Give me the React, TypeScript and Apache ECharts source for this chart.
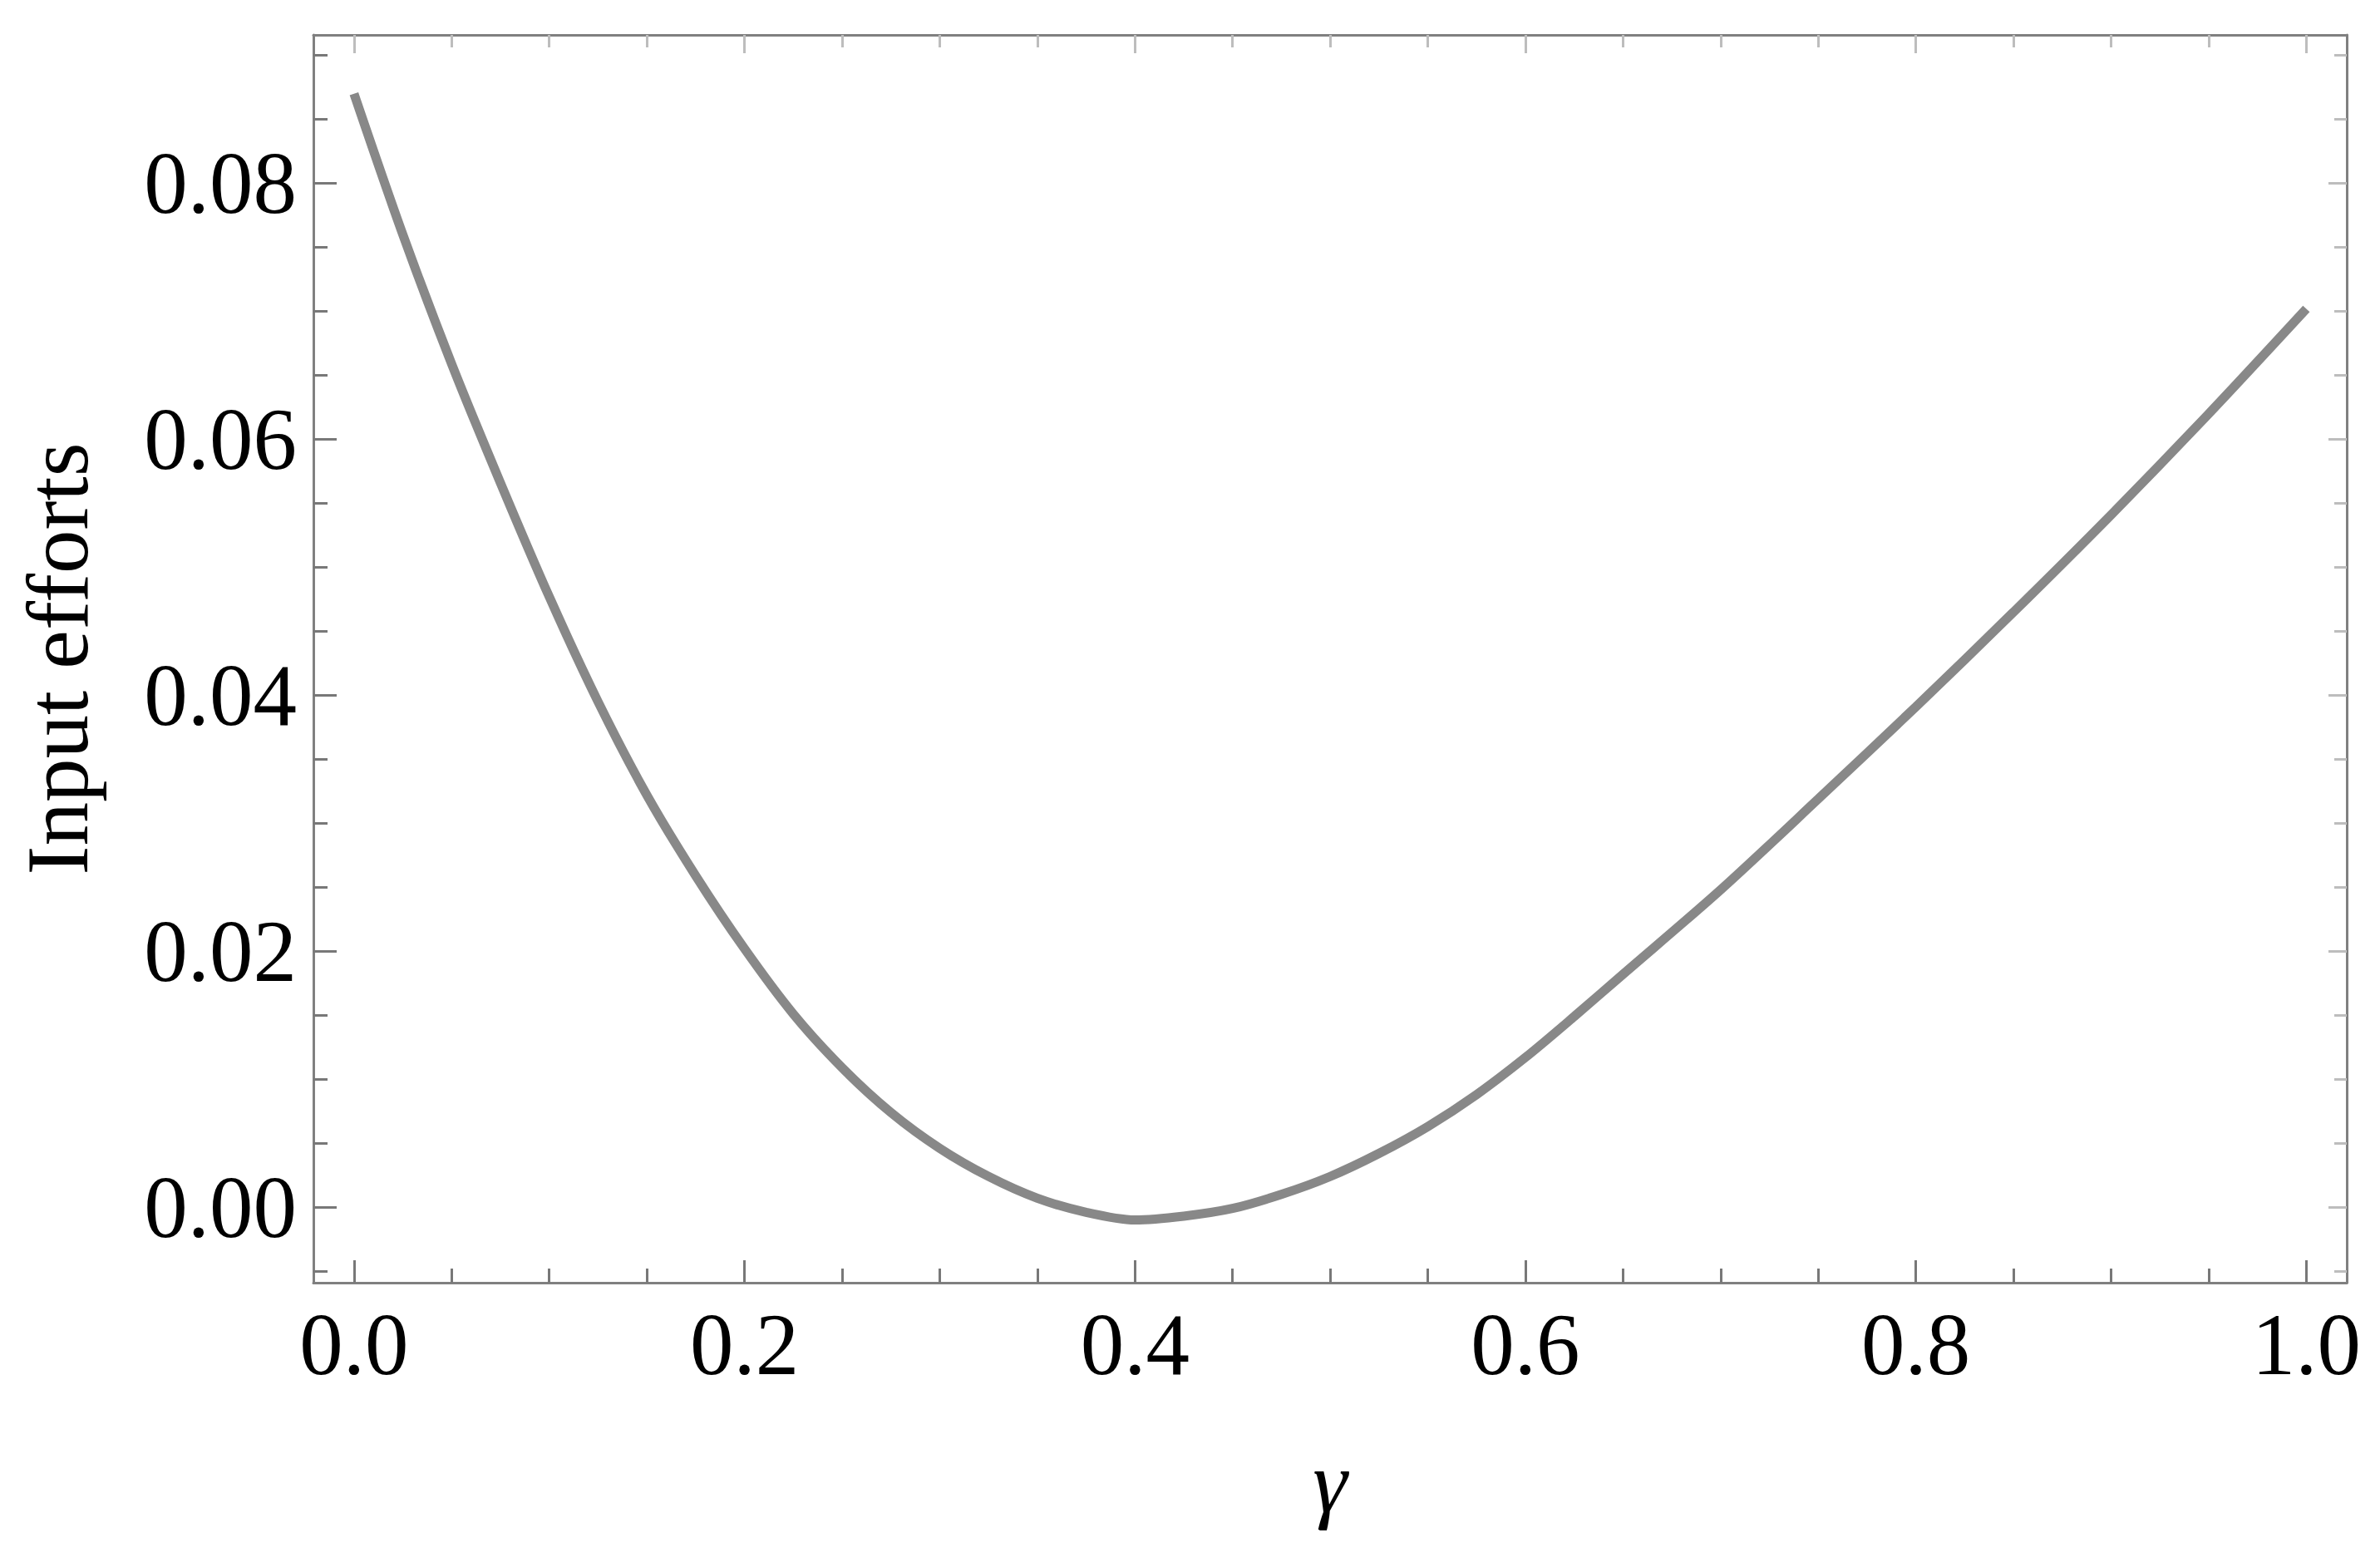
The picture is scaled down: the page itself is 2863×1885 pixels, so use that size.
import React, { useEffect, useRef } from "react";
import * as echarts from "echarts";

// gamma values (x) and input efforts (y)
const GAMMA = [
  0, 0.025, 0.05, 0.075, 0.1, 0.125, 0.15, 0.175, 0.2, 0.225, 0.25, 0.275,
  0.3, 0.325, 0.35, 0.375, 0.4, 0.425, 0.45, 0.475, 0.5, 0.525, 0.55, 0.575,
  0.6, 0.625, 0.65, 0.7, 0.75, 0.8, 0.85, 0.9, 0.95, 1.0,
];
const EFFORT = [
  0.087, 0.076, 0.0659, 0.0566, 0.0477, 0.0395, 0.0322, 0.0259, 0.0202, 0.0151,
  0.0109, 0.0074, 0.0046, 0.0024, 0.0007, -0.0004, -0.001, -0.0007, -0.0001,
  0.001, 0.0024, 0.0042, 0.0063, 0.0088, 0.0117, 0.0149, 0.0182, 0.0248,
  0.0319, 0.0391, 0.0465, 0.0541, 0.062, 0.0702,
];

const X_MAJOR = [0, 0.2, 0.4, 0.6, 0.8, 1.0];
const X_MINOR = [
  0.05, 0.1, 0.15, 0.25, 0.3, 0.35, 0.45, 0.5, 0.55, 0.65, 0.7, 0.75, 0.85,
  0.9, 0.95,
];
const Y_MAJOR = [0, 0.02, 0.04, 0.06, 0.08];
const Y_MINOR = [
  -0.005, 0.005, 0.01, 0.015, 0.025, 0.03, 0.035, 0.045, 0.05, 0.055, 0.065,
  0.07, 0.075, 0.085, 0.09,
];

const X_MIN = -0.0208;
const X_MAX = 1.0207;
const Y_MIN = -0.0059;
const Y_MAX = 0.0916;

const X_NAME = "γ";
const Y_NAME = "Input efforts";

const FONT = "Liberation Serif";
const FRAME = "#808080";
const TICK_MAIN = "#787878";
const TICK_LIGHT = "#bdbdbd";

export default function App() {
  const ref = useRef<HTMLDivElement>(null);

  useEffect(() => {
    if (!ref.current) return;
    const chart = echarts.init(ref.current, undefined, { renderer: "svg" });

    const xAxisBase = (
      position: "bottom" | "top",
      values: number[],
      len: number,
      color: string,
      showLine: boolean,
      labels: boolean,
      extra: any = {}
    ) => ({
      type: "value",
      position,
      min: X_MIN,
      max: X_MAX,
      splitLine: { show: false },
      axisLine: {
        show: showLine,
        onZero: false,
        lineStyle: { color: FRAME, width: 3 },
      },
      axisTick: {
        show: true,
        inside: true,
        length: len,
        customValues: values,
        lineStyle: { color, width: 3 },
      },
      axisLabel: labels
        ? {
            show: true,
            customValues: values,
            formatter: (v: number) => v.toFixed(1),
            fontFamily: FONT,
            fontSize: 105,
            color: "#000",
            margin: 22,
          }
        : { show: false },
      ...extra,
    });

    const yAxisBase = (
      position: "left" | "right",
      values: number[],
      len: number,
      color: string,
      showLine: boolean,
      labels: boolean,
      extra: any = {}
    ) => ({
      type: "value",
      position,
      min: Y_MIN,
      max: Y_MAX,
      splitLine: { show: false },
      axisLine: {
        show: showLine,
        onZero: false,
        lineStyle: { color: FRAME, width: 3 },
      },
      axisTick: {
        show: true,
        inside: true,
        length: len,
        customValues: values,
        lineStyle: { color, width: 3 },
      },
      axisLabel: labels
        ? {
            show: true,
            customValues: values,
            formatter: (v: number) => v.toFixed(2),
            fontFamily: FONT,
            fontSize: 105,
            color: "#000",
            margin: 20,
          }
        : { show: false },
      ...extra,
    });

    chart.setOption({
      animation: false,
      backgroundColor: "#fff",
      grid: {
        left: 377,
        right: 40,
        top: 42,
        bottom: 342,
        containLabel: false,
      },
      xAxis: [
        xAxisBase("bottom", X_MAJOR, 27, TICK_MAIN, true, true, {
          name: X_NAME,
          nameLocation: "middle",
          nameGap: 187,
          nameTextStyle: {
            fontFamily: FONT,
            fontStyle: "italic",
            fontSize: 105,
            color: "#000",
          },
        }),
        xAxisBase("bottom", X_MINOR, 17, TICK_MAIN, false, false),
        xAxisBase("top", X_MAJOR, 22, TICK_LIGHT, true, false),
        xAxisBase("top", X_MINOR, 15, TICK_LIGHT, false, false),
      ],
      yAxis: [
        yAxisBase("left", Y_MAJOR, 28, TICK_MAIN, true, true, {
          name: Y_NAME,
          nameLocation: "middle",
          nameGap: 255,
          nameRotate: 90,
          nameTextStyle: {
            fontFamily: FONT,
            fontSize: 105,
            color: "#000",
          },
        }),
        yAxisBase("left", Y_MINOR, 17, TICK_MAIN, false, false),
        yAxisBase("right", Y_MAJOR, 22, TICK_LIGHT, true, false),
        yAxisBase("right", Y_MINOR, 15, TICK_LIGHT, false, false),
      ],
      series: [
        {
          type: "line",
          xAxisIndex: 0,
          yAxisIndex: 0,
          data: GAMMA.map((g, i) => [g, EFFORT[i]]),
          showSymbol: false,
          smooth: 0.3,
          lineStyle: { color: "#888888", width: 11 },
          silent: true,
        },
      ],
    });

    return () => chart.dispose();
  }, []);

  return (
    <div
      ref={ref}
      style={{ position: "fixed", left: 0, top: 0, width: 2863, height: 1885 }}
    />
  );
}
